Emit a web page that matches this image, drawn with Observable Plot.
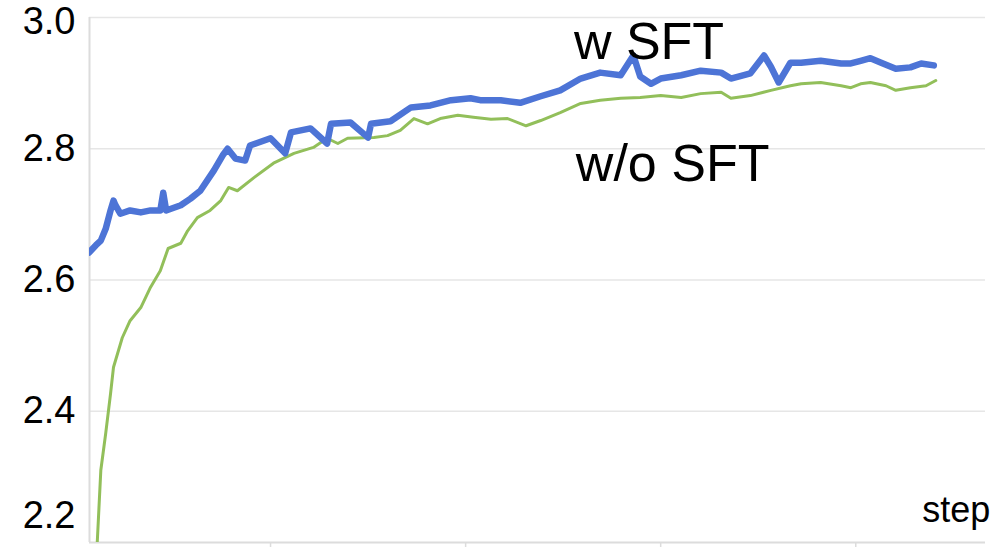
<!DOCTYPE html>
<html>
<head>
<meta charset="utf-8">
<script src="https://cdn.jsdelivr.net/npm/d3@7"></script>
<script src="https://cdn.jsdelivr.net/npm/@observablehq/plot@0.6"></script>
<style>
  html, body { margin: 0; padding: 0; background: #fff; }
  #chart svg { display: block; }
</style>
</head>
<body>
<div id="chart"></div>
<script>
// w SFT (blue)
const sftSteps = [14,21,26,31,36,39,41,46,56,67,77,87,90,93,108,118,128,142,151,156,164,174,179,200,215,221,241,258,262,282,300,303,323,344,364,385,405,415,436,456,477,497,518,538,559,572,579,590,600,621,641,662,672,692,706,713,721,733,744,764,785,795,805,815,826,841,856,867,880];
const sftValues = [2.642,2.653,2.660,2.678,2.706,2.721,2.714,2.701,2.706,2.703,2.706,2.706,2.733,2.706,2.714,2.724,2.736,2.767,2.790,2.800,2.785,2.782,2.805,2.816,2.793,2.825,2.831,2.808,2.838,2.840,2.817,2.838,2.842,2.863,2.866,2.874,2.877,2.874,2.874,2.870,2.880,2.889,2.907,2.916,2.912,2.942,2.910,2.899,2.907,2.912,2.919,2.916,2.907,2.915,2.942,2.925,2.901,2.931,2.931,2.934,2.930,2.930,2.934,2.938,2.931,2.922,2.924,2.930,2.927];
// w/o SFT (green)
const noSftSteps = [22,26,31,36,39,48,56,67,77,87,95,108,115,125,138,149,157,166,183,203,224,244,258,269,279,306,320,333,347,361,374,392,408,426,443,462,477,497,518,538,559,579,600,621,641,662,672,692,713,733,744,764,785,795,805,815,831,841,856,872,882];
const noSftValues = [2.19,2.310,2.366,2.427,2.467,2.512,2.538,2.558,2.589,2.614,2.648,2.656,2.675,2.695,2.706,2.721,2.741,2.736,2.756,2.778,2.793,2.802,2.816,2.808,2.816,2.817,2.820,2.828,2.846,2.838,2.846,2.851,2.848,2.845,2.846,2.835,2.843,2.855,2.869,2.874,2.877,2.878,2.881,2.878,2.884,2.886,2.877,2.881,2.889,2.896,2.899,2.901,2.896,2.893,2.899,2.901,2.896,2.889,2.893,2.896,2.904];

const yTicksMid = [2.4, 2.6, 2.8];
const yTopTick = [3.0];
const yBottomTick = [2.2];
const xTicks = [200, 400, 600, 800];
const labels = [
  {text: "w SFT", step: 511, value: 2.962},
  {text: "w/o SFT", step: 513, value: 2.776}
];
const xLabel = [{text: "step", step: 938, value: 2.249}];

const sft = sftSteps.map((s, i) => ({step: s, value: sftValues[i]}));
const noSft = noSftSteps.map((s, i) => ({step: s, value: noSftValues[i]}));

const font = "'Liberation Sans', Arial, sans-serif";
const fmt = d3.format(".1f");
const axisStyle = {tickSize: 0, tickPadding: 14, fontSize: 38, fill: "#000", label: null, tickFormat: fmt};

const chart = Plot.plot({
  width: 996,
  height: 548,
  marginLeft: 89,
  marginRight: 11,
  marginTop: 17,
  marginBottom: 6,
  style: {fontFamily: font, background: "#fff"},
  x: {type: "linear", domain: [14.4, 933], axis: null},
  y: {type: "linear", domain: [2.2, 3.0], axis: null},
  marks: [
    Plot.gridY([...yTicksMid, ...yTopTick], {stroke: "#e6e6e6", strokeOpacity: 1, strokeWidth: 1.5}),
    Plot.ruleX([14.4], {stroke: "#dcdcdc", strokeWidth: 2}),
    Plot.ruleY([2.2], {stroke: "#dcdcdc", strokeWidth: 2}),
    Plot.axisX(xTicks, {tickSize: 5, stroke: "#dcdcdc", strokeWidth: 1.5, text: null, label: null, anchor: "bottom"}),
    Plot.axisY(yTicksMid, axisStyle),
    Plot.axisY(yTopTick, {...axisStyle, dy: 4}),
    Plot.axisY(yBottomTick, {...axisStyle, dy: -27}),
    Plot.line(noSft, {x: "step", y: "value", stroke: "#92bf5a", strokeWidth: 3, clip: true}),
    Plot.line(sft, {x: "step", y: "value", stroke: "#4d74d6", strokeWidth: 6.5, clip: true}),
    Plot.text(labels, {x: "step", y: "value", text: "text", textAnchor: "start", fontSize: 52, fill: "#000"}),
    Plot.text(xLabel, {x: "step", y: "value", text: "text", textAnchor: "end", fontSize: 36, fill: "#000"})
  ]
});
document.getElementById("chart").appendChild(chart);
</script>
</body>
</html>
